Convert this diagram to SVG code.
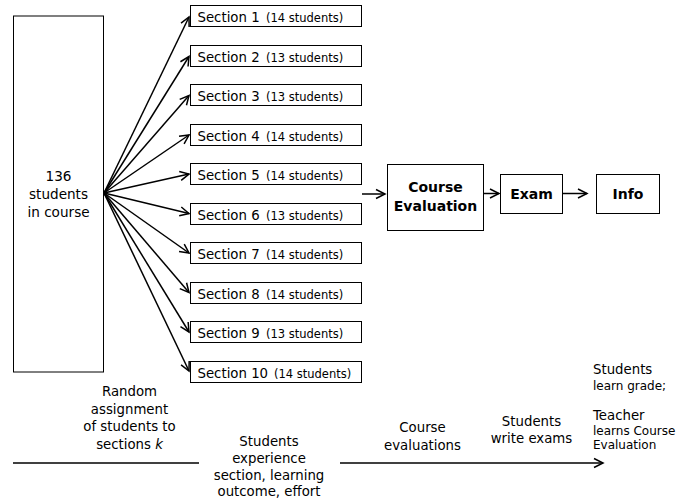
<svg xmlns="http://www.w3.org/2000/svg" width="678" height="498" viewBox="0 0 678 498">
<style>
  .box{fill:#fff;stroke:#000;stroke-width:1}
  .t{font-family:"DejaVu Sans",Verdana,sans-serif;font-size:13.3px;fill:#000}
  .s{font-family:"DejaVu Sans",Verdana,sans-serif;font-size:11.5px;fill:#000}
  .r{font-family:"DejaVu Sans",Verdana,sans-serif;font-size:12px;fill:#000}
  .b{font-family:"DejaVu Sans",Verdana,sans-serif;font-size:14px;font-weight:bold;fill:#000}
  .c{fill:none;stroke:#000;stroke-width:1.5}
  .m{text-anchor:middle}
</style>
<defs>
  <marker id="ah" markerUnits="userSpaceOnUse" markerWidth="12" markerHeight="12" refX="9" refY="4.5" orient="auto" overflow="visible">
    <path d="M0,0 L9,4.5 L0,9" fill="none" stroke="#000" stroke-width="1.5"/>
  </marker>
</defs>
<rect width="678" height="498" fill="#fff"/>
<g id="connectors">
  <line class="c" x1="104" y1="193" x2="189" y2="17" marker-end="url(#ah)"/>
  <line class="c" x1="104" y1="193" x2="189" y2="56.5" marker-end="url(#ah)"/>
  <line class="c" x1="104" y1="193" x2="189" y2="95.5" marker-end="url(#ah)"/>
  <line class="c" x1="104" y1="193" x2="189" y2="135" marker-end="url(#ah)"/>
  <line class="c" x1="104" y1="193" x2="189" y2="174" marker-end="url(#ah)"/>
  <line class="c" x1="104" y1="193" x2="189" y2="213.5" marker-end="url(#ah)"/>
  <line class="c" x1="104" y1="193" x2="189" y2="253" marker-end="url(#ah)"/>
  <line class="c" x1="104" y1="193" x2="189" y2="292.5" marker-end="url(#ah)"/>
  <line class="c" x1="104" y1="193" x2="189" y2="332" marker-end="url(#ah)"/>
  <line class="c" x1="104" y1="193" x2="189" y2="371" marker-end="url(#ah)"/>
  <line class="c" x1="362" y1="194" x2="385" y2="194" marker-end="url(#ah)"/>
  <line class="c" x1="483" y1="193.5" x2="499" y2="193.5" marker-end="url(#ah)"/>
  <line class="c" x1="563" y1="193.5" x2="587" y2="193.5" marker-end="url(#ah)"/>
  <line class="c" x1="13" y1="463" x2="199" y2="463"/>
  <line class="c" x1="340" y1="463" x2="603" y2="463" marker-end="url(#ah)"/>
</g>
<g id="course">
  <rect class="box" x="13.5" y="16" width="90" height="356"/>
  <text class="t m" x="58.5" y="180.5" style="font-size:13.6px">136</text>
  <text class="t m" x="58.5" y="198.5" style="font-size:13.6px">students</text>
  <text class="t m" x="58.5" y="216.5" style="font-size:13.6px">in course</text>
</g>
<g id="section1"><rect class="box" x="190.5" y="5.5" width="171" height="21"/><text class="t" x="197.5" y="22">Section 1</text><text class="s" x="266" y="22">(14 students)</text></g>
<g id="section2"><rect class="box" x="190.5" y="45.5" width="171" height="21"/><text class="t" x="197.5" y="61.5">Section 2</text><text class="s" x="266" y="61.5">(13 students)</text></g>
<g id="section3"><rect class="box" x="190.5" y="84.5" width="171" height="21"/><text class="t" x="197.5" y="101">Section 3</text><text class="s" x="266" y="101">(13 students)</text></g>
<g id="section4"><rect class="box" x="190.5" y="124.5" width="171" height="21"/><text class="t" x="197.5" y="140.5">Section 4</text><text class="s" x="266" y="140.5">(14 students)</text></g>
<g id="section5"><rect class="box" x="190.5" y="163.5" width="171" height="21"/><text class="t" x="197.5" y="180">Section 5</text><text class="s" x="266" y="180">(14 students)</text></g>
<g id="section6"><rect class="box" x="190.5" y="203.5" width="171" height="21"/><text class="t" x="197.5" y="219.5">Section 6</text><text class="s" x="266" y="219.5">(13 students)</text></g>
<g id="section7"><rect class="box" x="190.5" y="242.5" width="171" height="21"/><text class="t" x="197.5" y="259">Section 7</text><text class="s" x="266" y="259">(14 students)</text></g>
<g id="section8"><rect class="box" x="190.5" y="282.5" width="171" height="21"/><text class="t" x="197.5" y="298.5">Section 8</text><text class="s" x="266" y="298.5">(14 students)</text></g>
<g id="section9"><rect class="box" x="190.5" y="321.5" width="171" height="21"/><text class="t" x="197.5" y="338">Section 9</text><text class="s" x="266" y="338">(13 students)</text></g>
<g id="section10"><rect class="box" x="190.5" y="361.5" width="171" height="21"/><text class="t" x="197.5" y="377.5">Section 10</text><text class="s" x="274" y="377.5">(14 students)</text></g>
<g id="evaluation">
  <rect class="box" x="387.5" y="164.5" width="96" height="66"/>
  <text class="b m" x="435.5" y="192">Course</text>
  <text class="b m" x="435.5" y="211">Evaluation</text>
</g>
<g id="exam">
  <rect class="box" x="500.5" y="174.5" width="62" height="39"/>
  <text class="b m" x="531.5" y="198.5">Exam</text>
</g>
<g id="info">
  <rect class="box" x="596.5" y="174.5" width="63" height="39"/>
  <text class="b m" x="628" y="198.5">Info</text>
</g>
<g id="timeline-labels">
  <text class="t m" x="129.5" y="396">Random</text>
  <text class="t m" x="129.5" y="413.5">assignment</text>
  <text class="t m" x="129.5" y="431">of students to</text>
  <text class="t m" x="129.5" y="448.5">sections <tspan font-style="italic">k</tspan></text>
  <text class="t m" x="269" y="446">Students</text>
  <text class="t m" x="269" y="463">experience</text>
  <text class="t m" x="269" y="480">section, learning</text>
  <text class="t m" x="269" y="496">outcome, effort</text>
  <text class="t m" x="422.5" y="432">Course</text>
  <text class="t m" x="422.5" y="450">evaluations</text>
  <text class="t m" x="531.5" y="426">Students</text>
  <text class="t m" x="531.5" y="443">write exams</text>
  <text class="t" x="593" y="374">Students</text>
  <text class="r" x="593" y="390">learn grade;</text>
  <text class="t" x="593" y="420">Teacher</text>
  <text class="r" x="593" y="435">learns Course</text>
  <text class="r" x="593" y="449">Evaluation</text>
</g>
</svg>
